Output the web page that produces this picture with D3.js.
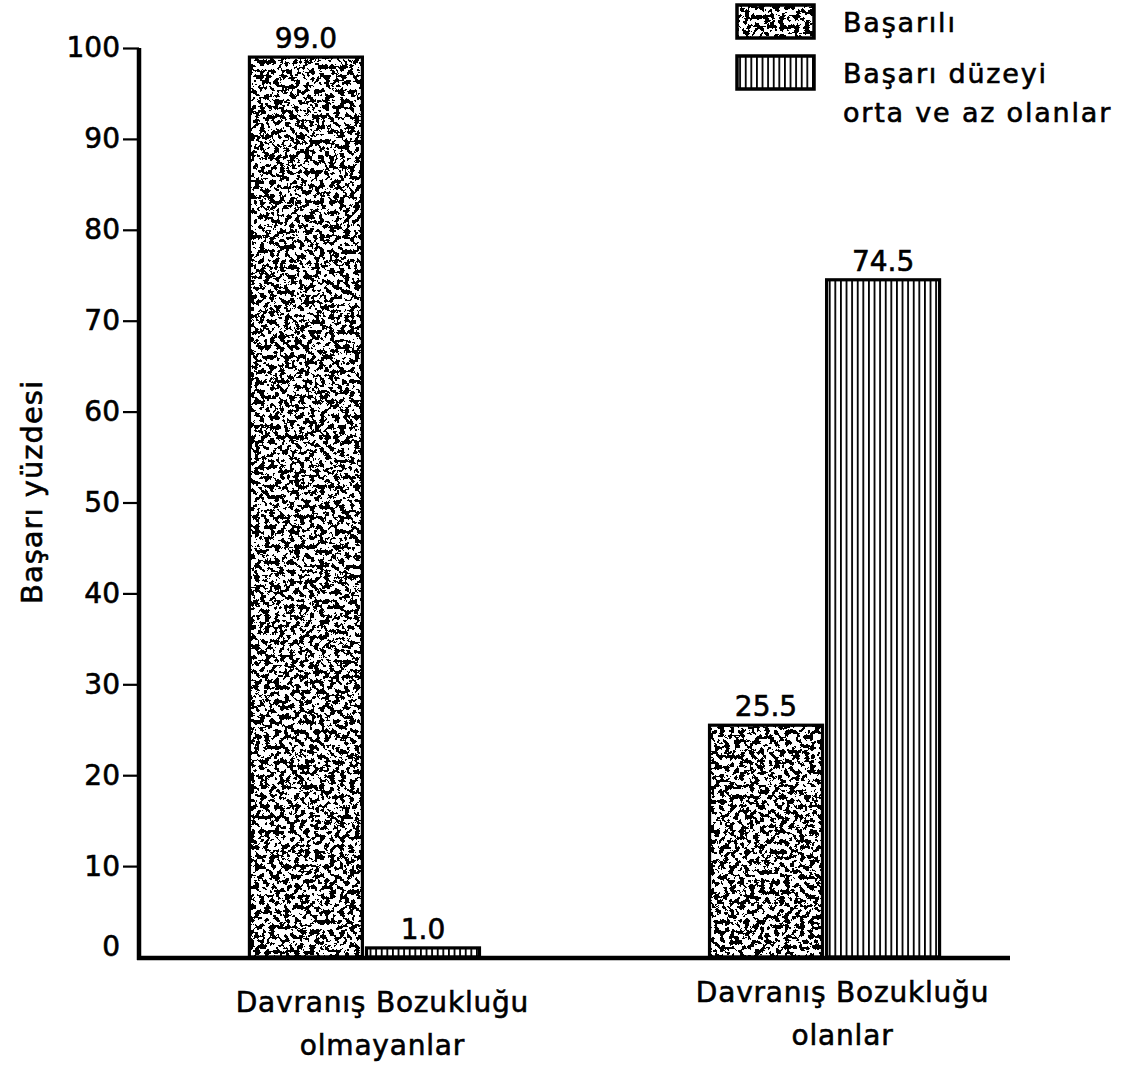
<!DOCTYPE html>
<html>
<head>
<meta charset="utf-8">
<script src="https://cdn.jsdelivr.net/npm/d3@7/dist/d3.min.js"></script>
<style>
  html, body { margin: 0; padding: 0; background: #fff; }
  svg { display: block; }
  text { font-family: "DejaVu Sans", sans-serif; fill: #000; stroke: #000; stroke-width: 0.6px; }
</style>
</head>
<body>
<svg id="chart" width="1139" height="1069"></svg>
<script>
// ---- data ----
const categories = ["Davranış Bozukluğu\nolmayanlar", "Davranış Bozukluğu\nolanlar"];
const seriesNames = ["Başarılı", "Başarı düzeyi\norta ve az olanlar"];
const basariliValues = [99.0, 25.5];
const ortaAzValues = [1.0, 74.5];
const valueLabels = [["99.0", "1.0"], ["25.5", "74.5"]];
const yTicks = [0, 10, 20, 30, 40, 50, 60, 70, 80, 90, 100];
const yTitle = "Başarı yüzdesi";

const svg = d3.select("#chart");
const W = 1139, H = 1069;
svg.append("rect").attr("width", W).attr("height", H).attr("fill", "#fff");

// ---- defs: stipple filter and vertical line pattern ----
const defs = svg.append("defs");
const f = defs.append("filter").attr("id", "stipple")
  .attr("x", 0).attr("y", 0).attr("width", 1).attr("height", 1)
  .attr("filterUnits", "objectBoundingBox")
  .attr("primitiveUnits", "userSpaceOnUse")
  .attr("color-interpolation-filters", "sRGB");
f.append("feTurbulence").attr("type", "fractalNoise").attr("baseFrequency", 0.2)
  .attr("numOctaves", 4).attr("seed", 7).attr("result", "noise");
f.append("feColorMatrix").attr("in", "noise").attr("type", "matrix")
  .attr("values", "0 0 0 0 0  0 0 0 0 0  0 0 0 0 0  9 0 0 0 -4.15").attr("result", "spk");
f.append("feComponentTransfer").attr("in", "spk").attr("result", "hard")
  .append("feFuncA").attr("type", "discrete").attr("tableValues", "0 1");
f.append("feComposite").attr("in", "hard").attr("in2", "SourceAlpha").attr("operator", "in");

const pat = defs.append("pattern").attr("id", "vlines")
  .attr("patternUnits", "userSpaceOnUse").attr("width", 5.6).attr("height", 10);
pat.append("rect").attr("width", 5.6).attr("height", 10).attr("fill", "#fff");
pat.append("rect").attr("x", 0).attr("width", 1.8).attr("height", 10).attr("fill", "#000");

// ---- scales ----
const y = d3.scaleLinear().domain([0, 100]).range([957, 48]);
const x0 = d3.scaleBand().domain(categories).range([139, 1050]).paddingInner(0.5).paddingOuter(0.24);
const x1 = d3.scaleBand().domain(seriesNames).range([0, x0.bandwidth()]).paddingInner(0.035);

const rows = categories.map((c, i) => ({
  cat: c,
  vals: [
    {s: seriesNames[0], v: basariliValues[i], lab: valueLabels[i][0], kind: "stipple"},
    {s: seriesNames[1], v: ortaAzValues[i], lab: valueLabels[i][1], kind: "lines"}
  ]
}));

// ---- bars ----
const g = svg.append("g");
rows.forEach(r => {
  r.vals.forEach(d => {
    const bx = x0(r.cat) + x1(d.s), bw = x1.bandwidth();
    const by = y(d.v), bh = y(0) - y(d.v);
    if (d.kind === "stipple") {
      g.append("rect").attr("x", bx).attr("y", by).attr("width", bw).attr("height", bh).attr("fill", "#fff");
      g.append("rect").attr("x", bx).attr("y", by).attr("width", bw).attr("height", bh)
        .attr("fill", "#000").attr("filter", "url(#stipple)");
    } else {
      g.append("rect").attr("x", bx).attr("y", by).attr("width", bw).attr("height", bh).attr("fill", "url(#vlines)");
    }
    g.append("rect").attr("x", bx).attr("y", by).attr("width", bw).attr("height", bh)
      .attr("fill", "none").attr("stroke", "#000").attr("stroke-width", 3.2);
    g.append("text").attr("x", bx + bw / 2).attr("y", by - 9)
      .attr("text-anchor", "middle").attr("font-size", 28)
      .text(d.lab);
  });
});

// ---- y axis ----
const yAxis = d3.axisLeft(y).tickValues(yTicks).tickSize(16).tickPadding(3).tickFormat(d3.format("d"));
const ya = svg.append("g").attr("transform", "translate(139,0)").call(yAxis);
ya.select(".domain").remove();
ya.selectAll(".tick line").attr("stroke", "#000").attr("stroke-width", 2.2);
ya.selectAll(".tick text").attr("font-size", 28).attr("font-family", "DejaVu Sans, sans-serif").attr("fill", "#000");
ya.selectAll(".tick").filter(d => d === 0).select("line").remove();
ya.selectAll(".tick").filter(d => d === 0).select("text").attr("dy", "-0.05em");
svg.append("line").attr("x1", 139).attr("x2", 139).attr("y1", y(100)).attr("y2", y(0) + 3)
  .attr("stroke", "#000").attr("stroke-width", 4.5);
// baseline
svg.append("line").attr("x1", 137).attr("x2", 1010).attr("y1", y(0) + 1).attr("y2", y(0) + 1)
  .attr("stroke", "#000").attr("stroke-width", 4.5);

// y title
svg.append("text").attr("transform", `translate(42,492) rotate(-90)`)
  .attr("text-anchor", "middle").attr("font-size", 29).attr("letter-spacing", 1)
  .text(yTitle);

// ---- category labels ----
const catLineY = [[1012, 1055], [1002, 1045]];
categories.forEach((c, i) => {
  const lines = c.split("\n");
  const cx = x0(c) + x0.bandwidth() / 2 + 18;
  lines.forEach((ln, j) => {
    svg.append("text").attr("x", cx).attr("y", catLineY[i][j])
      .attr("text-anchor", "middle").attr("font-size", 28).attr("letter-spacing", 0.8)
      .text(ln);
  });
});

// ---- legend ----
const lg = svg.append("g");
const legendY = [5, 56];
const legendTextY = [[32], [83, 122]];
seriesNames.forEach((s, i) => {
  const sx = 737, sy = legendY[i], sw = 77, sh = 33;
  if (i === 0) {
    lg.append("rect").attr("x", sx).attr("y", sy).attr("width", sw).attr("height", sh).attr("fill", "#fff");
    lg.append("rect").attr("x", sx).attr("y", sy).attr("width", sw).attr("height", sh)
      .attr("fill", "#000").attr("filter", "url(#stipple)");
  } else {
    lg.append("rect").attr("x", sx).attr("y", sy).attr("width", sw).attr("height", sh).attr("fill", "url(#vlines)");
  }
  lg.append("rect").attr("x", sx).attr("y", sy).attr("width", sw).attr("height", sh)
    .attr("fill", "none").attr("stroke", "#000").attr("stroke-width", 3.5);
  s.split("\n").forEach((ln, j) => {
    lg.append("text").attr("x", 843).attr("y", legendTextY[i][j])
      .attr("font-size", 27).attr("letter-spacing", 1.8).text(ln);
  });
});
</script>
</body>
</html>
